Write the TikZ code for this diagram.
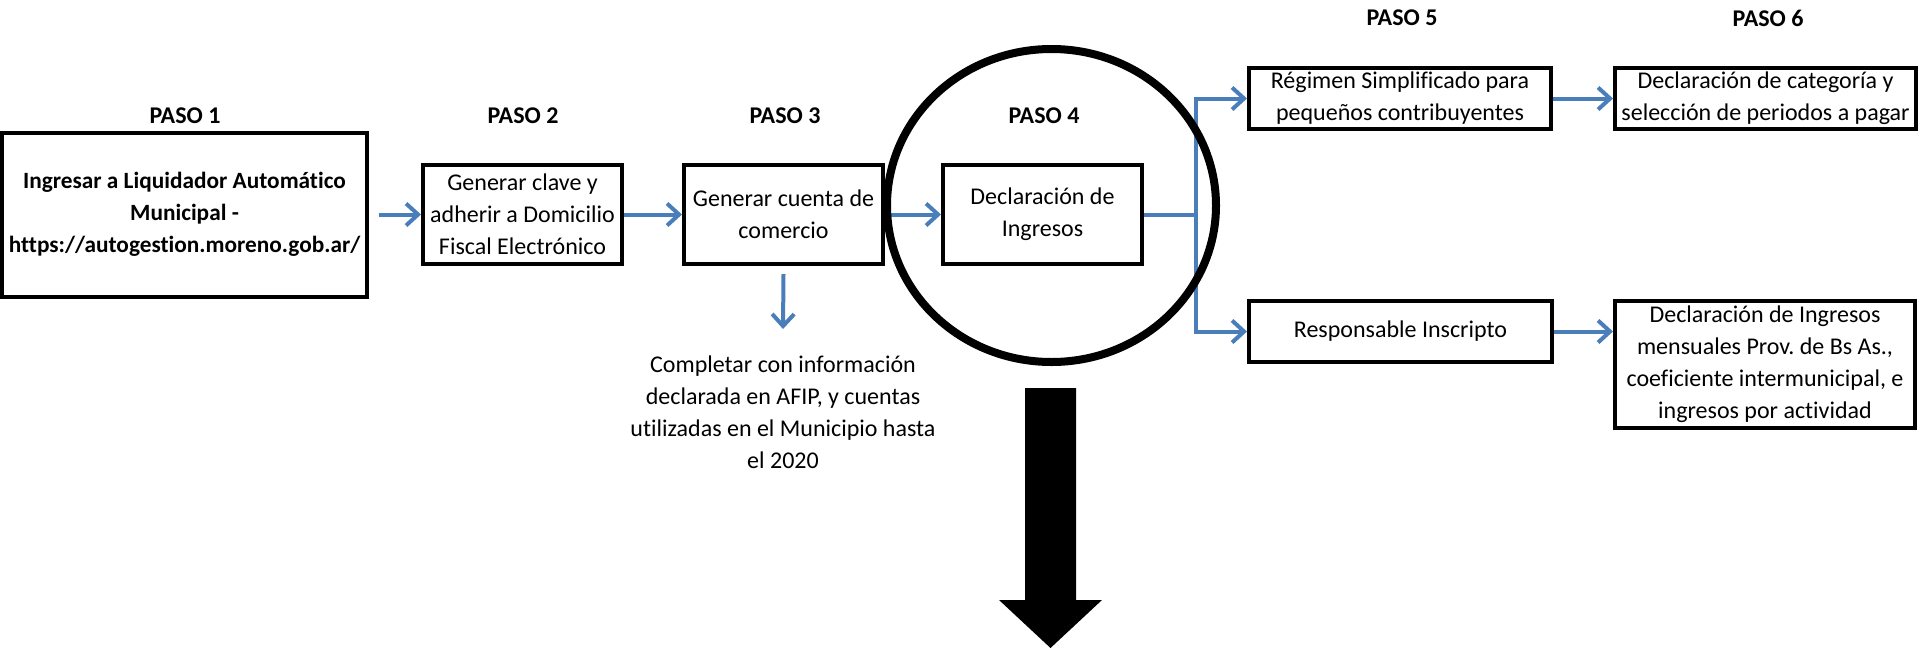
\documentclass[tikz,border=0pt]{standalone}
\usepackage{fontspec}
\setmainfont{Carlito}[Ligatures=NoCommon]
\usetikzlibrary{arrows.meta,calc}
\definecolor{arrowblue}{HTML}{4A7EBB}
\frenchspacing
\begin{document}
\begin{tikzpicture}[x=1pt,y=-1pt,
  box/.style={draw=black, line width=4pt, inner sep=0pt, align=center,
    font=\fontsize{24pt}{32pt}\selectfont},
  boxbold/.style={box, font=\bfseries\fontsize{23.3pt}{32pt}\selectfont},
  paso/.style={inner sep=0pt, font=\bfseries\fontsize{24pt}{32pt}\selectfont},
  note/.style={inner sep=0pt, align=center, font=\fontsize{24pt}{32pt}\selectfont},
  link/.style={draw=arrowblue, line width=4pt},
  arr/.style={link, -{Straight Barb[length=12pt,width=22pt]}}]
\useasboundingbox (0,0) rectangle (1920,649);
\fill[white] (0,0) rectangle (1920,649);

% PASO labels
\node[paso] (p1) at (185,116) {PASO 1};
\node[paso] (p2) at (523,116) {PASO 2};
\node[paso] (p3) at (785,116) {PASO 3};
\node[paso] (p4) at (1044,116) {PASO 4};
\node[paso] (p5) at (1402,18) {PASO 5};
\node[paso] (p6) at (1768,18) {PASO 6};

% boxes
\node[boxbold, minimum width=365pt, minimum height=164pt] (b1) at (184.5,214.5)
  {Ingresar a Liquidador Automático\\Municipal -\\https://autogestion.moreno.gob.ar/};
\node[box, minimum width=199pt, minimum height=99pt] (b2) at (522.5,214.5)
  {Generar clave y\\adherir a Domicilio\\Fiscal Electrónico};
\node[box, minimum width=199pt, minimum height=99pt] (b3) at (783.5,214.5)
  {Generar cuenta de\\comercio};
\node[box, minimum width=199pt, minimum height=99pt] (b4) at (1042.5,214.5)
  {Declaración de\\Ingresos};
\node[box, minimum width=302pt, minimum height=61pt] (b5a) at (1400,98.5)
  {Régimen Simplificado para\\pequeños contribuyentes};
\node[box, minimum width=301pt, minimum height=61pt] (b6a) at (1765.5,98.5)
  {Declaración de categoría y\\selección de periodos a pagar};
\node[box, minimum width=303pt, minimum height=61pt] (b5b) at (1400.5,331.5)
  {Responsable Inscripto};
\node[box, minimum width=300pt, minimum height=127pt] (b6b) at (1765,364.5)
  {Declaración de Ingresos\\mensuales Prov. de Bs As.,\\coeficiente intermunicipal, e\\ingresos por actividad};

\node[note] (n3) at (783,412)
  {Completar con información\\declarada en AFIP, y cuentas\\utilizadas en el Municipio hasta\\el 2020};

% connectors
\draw[arr] ([xshift=10pt]b1.east) -- (b2.west);
\draw[arr] (b2.east) -- (b3.west);
\draw[arr] (b3.east) -- (b4.west);
\coordinate (dtip) at (783,329);
\draw[arr] ([yshift=-8pt]b3.south) -- (dtip);
\coordinate (j) at (1196,214.5);
\draw[link] (b4.east) -- (j);
\draw[arr] (j) |- (b5a.west);
\draw[arr] (j) |- (b5b.west);
\draw[arr] (b5a.east) -- (b6a.west);
\draw[arr] (b5b.east) -- (b5b.east -| b6b.west);

% highlight ring
\draw[line width=8pt] (1051.5,205.5) ellipse [x radius=164.5pt, y radius=156.5pt];

% big down arrow
\fill[black] (1025,388) -- (1076,388) -- (1076,600) -- (1102,600) -- (1050.5,648)
  -- (999,600) -- (1025,600) -- cycle;
\end{tikzpicture}
\end{document}
